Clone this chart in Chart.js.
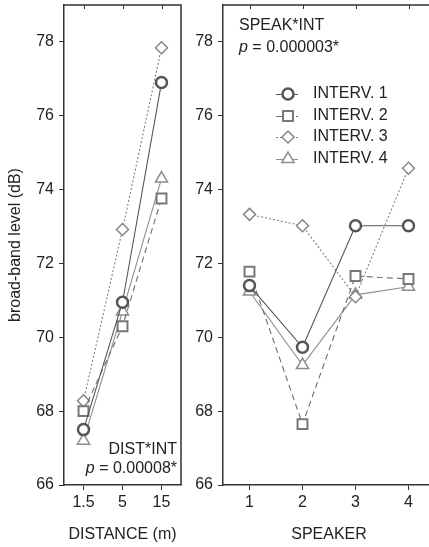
<!DOCTYPE html>
<html><head><meta charset="utf-8">
<script src="https://cdn.jsdelivr.net/npm/chart.js@4"></script>
<style>
html,body{margin:0;padding:0;overflow:hidden;background:#fff;width:429px;height:547px;}
#wrapL{position:absolute;left:0;top:0;width:190px;height:547px;}
#wrapR{position:absolute;left:190px;top:0;width:250px;height:547px;}
canvas{display:block;}
</style></head><body>
<div id="wrapL"><canvas id="cL" width="190" height="547"></canvas></div>
<div id="wrapR"><canvas id="cR" width="250" height="547"></canvas></div>
<script>
// ---- data ----
const distanceLabels = ['1.5', '5', '15'];
const speakerLabels = ['1', '2', '3', '4'];
const seriesNames = ['INTERV. 1', 'INTERV. 2', 'INTERV. 3', 'INTERV. 4'];
const distInterv1 = [67.5, 70.95, 76.9];
const distInterv2 = [68.0, 70.3, 73.76];
const distInterv3 = [68.28, 72.92, 77.84];
const distInterv4 = [67.2, 70.7, 74.3];
const speakInterv1 = [71.4, 69.73, 73.02, 73.02];
const speakInterv2 = [71.78, 67.65, 71.66, 71.58];
const speakInterv3 = [73.33, 73.02, 71.1, 74.58];
const speakInterv4 = [71.24, 69.25, 71.15, 71.37];
const yTicks = [66, 68, 70, 72, 74, 76, 78];
const yMin = 66, yMax = 79;

const FONT = '"Liberation Sans", Arial, Helvetica, sans-serif';
const TXT = '#222';
const AX = '#333';
Chart.defaults.font.family = FONT;
Chart.defaults.font.size = 16;
Chart.defaults.color = TXT;

const styles = [
  {pc: '#555', lc: '#555', ps: 'circle', r: 5.5, bw: 2.5, dash: []},
  {pc: '#777', lc: '#6e6e6e', ps: 'rect', r: 7, bw: 2, dash: [6, 4]},
  {pc: '#888', lc: '#808080', ps: 'rectRot', r: 6, bw: 1.5, dash: [2, 2]},
  {pc: '#8e8e8e', lc: '#8e8e8e', ps: 'triangle', r: 7, bw: 1.5, dash: []}
];

function makeDatasets(arrs) {
  return arrs.map((d, i) => {
    const s = styles[i];
    return {
      label: seriesNames[i], data: d,
      borderColor: s.lc, borderWidth: 1.1, borderDash: s.dash,
      pointStyle: s.ps, pointRadius: s.r, pointHoverRadius: s.r,
      pointBorderColor: s.pc, pointBorderWidth: s.bw,
      pointBackgroundColor: '#fff', tension: 0, fill: false
    };
  });
}

function drawP(ctx, rest, x, y, align) {
  const it = 'italic 16px ' + FONT, nf = '16px ' + FONT;
  ctx.font = it; const wp = ctx.measureText('p').width;
  ctx.font = nf; const wr = ctx.measureText(rest).width;
  const x0 = align === 'right' ? x - wp - wr : x;
  ctx.textAlign = 'left'; ctx.textBaseline = 'middle'; ctx.fillStyle = TXT;
  ctx.font = it; ctx.fillText('p', x0, y);
  ctx.font = nf; ctx.fillText(rest, x0 + wp, y);
}

const framePlugin = {
  id: 'frame',
  beforeDatasetsDraw(chart) {
    const {ctx, chartArea: a, scales: {x}} = chart;
    ctx.save();
    ctx.strokeStyle = AX; ctx.lineWidth = 1.5;
    ctx.beginPath();
    ctx.moveTo(a.left, a.top); ctx.lineTo(a.right, a.top); ctx.lineTo(a.right, a.bottom);
    ctx.stroke();
    ctx.lineWidth = 1;
    ctx.beginPath();
    x.ticks.forEach((t, i) => {
      const px = Math.round(x.getPixelForTick(i)) + 0.5;
      ctx.moveTo(px, a.top); ctx.lineTo(px, a.top + 4);
    });
    ctx.stroke();
    ctx.restore();
  }
};

function axes(labels, xTitle, showYTitle, yWidth) {
  return {
    x: {
      type: 'category', labels: labels, offset: true,
      ticks: {padding: 3, color: TXT},
      grid: {display: true, drawOnChartArea: false, drawTicks: true, tickLength: 5, color: AX, lineWidth: 1},
      border: {display: true, color: AX, width: 1.5},
      title: {display: true, text: xTitle, color: TXT, padding: {top: 0, bottom: 2.5}},
      afterFit: s => { s.height = 62; s.paddingLeft = 0; s.paddingRight = 0; }
    },
    y: {
      min: yMin, max: yMax,
      afterBuildTicks: s => { s.ticks = yTicks.map(v => ({value: v})); },
      ticks: {padding: 5, color: TXT},
      grid: {display: true, drawOnChartArea: false, drawTicks: true, tickLength: 5, color: AX, lineWidth: 1},
      border: {display: true, color: AX, width: 1.5},
      title: {display: showYTitle, text: 'broad-band level (dB)', color: TXT, padding: {top: 5.5, bottom: 0}},
      afterFit: s => { s.width = yWidth; s.paddingTop = 0; s.paddingBottom = 0; }
    }
  };
}

const commonPlugins = {legend: {display: false}, tooltip: {enabled: false}};

new Chart(document.getElementById('cL'), {
  type: 'line',
  data: {labels: distanceLabels, datasets: makeDatasets([distInterv1, distInterv2, distInterv3, distInterv4])},
  options: {
    responsive: false, animation: false, devicePixelRatio: 1,
    layout: {autoPadding: false, padding: {left: 0, top: 5, right: 9, bottom: 0}},
    scales: axes(distanceLabels, 'DISTANCE (m)', true, 64),
    plugins: commonPlugins
  },
  plugins: [framePlugin, {
    id: 'annL',
    afterDraw(chart) {
      const {ctx, chartArea: a} = chart;
      ctx.save();
      ctx.font = '16px ' + FONT; ctx.fillStyle = TXT; ctx.textAlign = 'right'; ctx.textBaseline = 'middle';
      ctx.fillText('DIST*INT', a.right - 4, 450);
      drawP(ctx, ' = 0.00008*', a.right - 4, 469, 'right');
      ctx.restore();
    }
  }]
});

new Chart(document.getElementById('cR'), {
  type: 'line',
  data: {labels: speakerLabels, datasets: makeDatasets([speakInterv1, speakInterv2, speakInterv3, speakInterv4])},
  options: {
    responsive: false, animation: false, devicePixelRatio: 1,
    layout: {autoPadding: false, padding: {left: 0, top: 5, right: 5, bottom: 0}},
    scales: axes(speakerLabels, 'SPEAKER', false, 33),
    plugins: commonPlugins
  },
  plugins: [framePlugin, {
    id: 'annR',
    afterDraw(chart) {
      const {ctx, chartArea: a} = chart;
      ctx.save();
      ctx.font = '16px ' + FONT; ctx.fillStyle = TXT; ctx.textAlign = 'left'; ctx.textBaseline = 'middle';
      ctx.fillText('SPEAK*INT', a.left + 16, 26);
      drawP(ctx, ' = 0.000003*', a.left + 16, 48, 'left');
      // legend
      const rows = [94, 116, 137, 159];
      chart.data.datasets.forEach((ds, i) => {
        const s = styles[i], y = rows[i];
        const x0 = a.left + 53, x1 = a.left + 75, xm = a.left + 65;
        ctx.save();
        ctx.strokeStyle = s.lc; ctx.lineWidth = 1; ctx.setLineDash(s.dash);
        ctx.beginPath(); ctx.moveTo(x0, y + 0.5); ctx.lineTo(x1, y + 0.5); ctx.stroke();
        ctx.setLineDash([]);
        ctx.fillStyle = '#fff'; ctx.strokeStyle = s.pc; ctx.lineWidth = s.bw;
        Chart.helpers.drawPoint(ctx, {pointStyle: s.ps, radius: s.r, rotation: 0, borderWidth: s.bw}, xm, y);
        ctx.restore();
        ctx.font = '16px ' + FONT; ctx.fillStyle = TXT; ctx.textAlign = 'left'; ctx.textBaseline = 'middle';
        ctx.fillText(ds.label, a.left + 90, y);
      });
      ctx.restore();
    }
  }]
});
</script>
</body></html>
